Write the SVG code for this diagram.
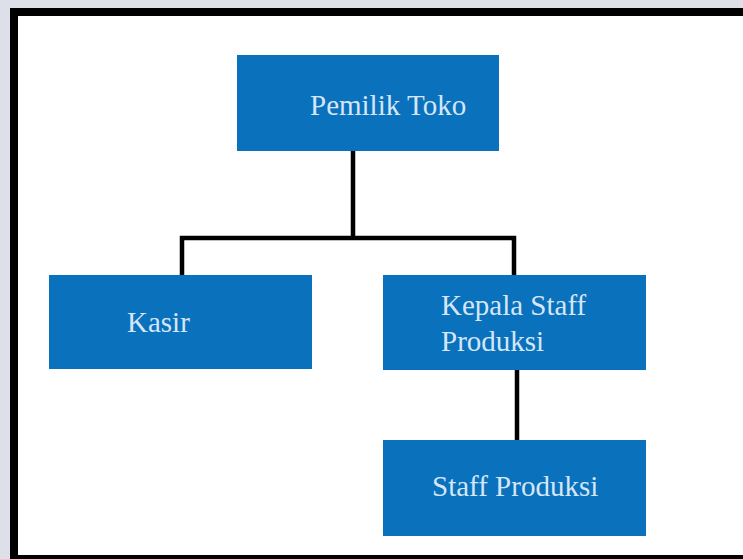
<svg xmlns="http://www.w3.org/2000/svg" width="743" height="559" viewBox="0 0 743 559">
<style>
.box{fill:#0a71bd}
.lbl{font-family:"Liberation Serif","Times New Roman",serif;font-size:29px;fill:#d6e6f6}
.con{stroke:#000;stroke-width:4.5;fill:none;stroke-linecap:square}
</style>
<rect x="0" y="0" width="743" height="559" fill="#dde0e9"/>
<rect x="14" y="12" width="800" height="547" fill="#fff" stroke="#000" stroke-width="8"/>
<g id="connectors">
<path class="con" d="M353 151V238M182 238H514M182 238V275M514 238V275"/>
<path class="con" d="M517 370V440"/>
</g>
<g id="pemilik">
<rect class="box" x="237" y="55" width="262" height="96"/>
<text class="lbl" x="310" y="115">Pemilik Toko</text>
</g>
<g id="kasir">
<rect class="box" x="49" y="275" width="263" height="94"/>
<text class="lbl" x="127" y="332">Kasir</text>
</g>
<g id="kepala">
<rect class="box" x="383" y="275" width="263" height="95"/>
<text class="lbl" x="441" y="315">Kepala Staff</text>
<text class="lbl" x="441" y="351">Produksi</text>
</g>
<g id="staff">
<rect class="box" x="383" y="440" width="263" height="96"/>
<text class="lbl" x="432" y="496">Staff Produksi</text>
</g>
</svg>
